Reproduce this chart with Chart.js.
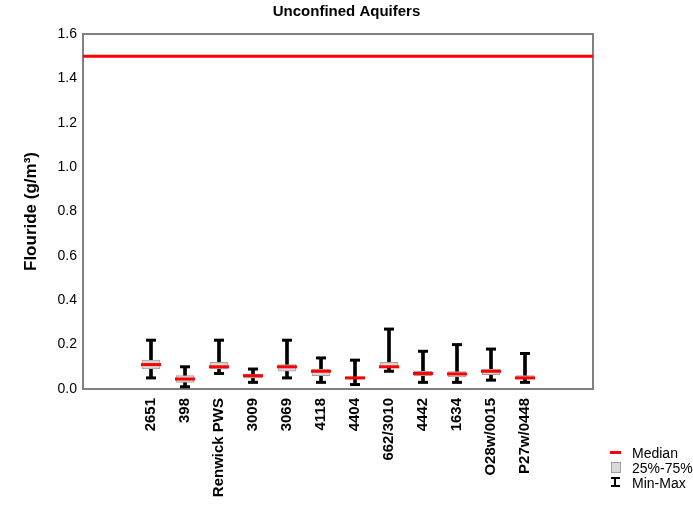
<!DOCTYPE html>
<html>
<head>
<meta charset="utf-8">
<script src="https://cdn.jsdelivr.net/npm/chart.js@4.4.1/dist/chart.umd.min.js"></script>
<style>
  body { margin: 0; background: #fff; }
  #wrap { position: relative; width: 693px; height: 513px; }
  .leg { position: absolute; left: 610px; font: 14px Arial, "Liberation Sans", sans-serif; color: #000; }
  .leg span { position: absolute; left: 22px; white-space: nowrap; line-height: 14px; }
  .med { top: 446px; }
  .med i { position: absolute; left: 0; top: 5px; width: 11px; height: 3px; background: #ff0000; }
  .iqr { top: 461px; }
  .iqr i { position: absolute; left: 1px; top: 1px; width: 8px; height: 9px; background: #d9d9d9; border: 1px solid #a0a0a0; }
  .mm { top: 476px; }
  .mm i { position: absolute; left: 1px; top: 1px; width: 9px; height: 10px; border-top: 2px solid #000; border-bottom: 2px solid #000; box-sizing: border-box; }
  .mm b { position: absolute; left: 4px; top: 1px; width: 2px; height: 10px; background: #000; }
</style>
</head>
<body>
<div id="wrap">
  <canvas id="c" width="693" height="513"></canvas>
  <div class="leg med"><i></i><span>Median</span></div>
  <div class="leg iqr"><i></i><span>25%-75%</span></div>
  <div class="leg mm"><i></i><b></b><span>Min-Max</span></div>
</div>
<script>
const sites = ["2651", "398", "Renwick PWS", "3009", "3069", "4118", "4404", "662/3010", "4442", "1634", "O28w/0015", "P27w/0448"];
const mins =    [0.05, 0.01, 0.07, 0.03, 0.05, 0.03, 0.02, 0.08, 0.03, 0.03, 0.04, 0.03];
const q1s =     [0.09, 0.03, 0.09, 0.05, 0.08, 0.06, 0.045, 0.10, 0.06, 0.055, 0.065, 0.045];
const medians = [0.11, 0.045, 0.10, 0.06, 0.10, 0.08, 0.05, 0.10, 0.07, 0.068, 0.08, 0.05];
const q3s =     [0.13, 0.06, 0.12, 0.065, 0.11, 0.09, 0.055, 0.12, 0.08, 0.078, 0.09, 0.06];
const maxs =    [0.22, 0.10, 0.22, 0.09, 0.22, 0.14, 0.13, 0.27, 0.17, 0.20, 0.18, 0.16];
const limit = 1.5;
const yTicks = [0, 0.2, 0.4, 0.6, 0.8, 1.0, 1.2, 1.4, 1.6];

// sites sit on slots 2..13 of a 0..15 axis
const slot = (i) => i + 2;

const stems = sites.map((s, i) => ({ x: slot(i), y: [mins[i], maxs[i]] }));
const boxes = sites.map((s, i) => ({ x: slot(i), y: [q1s[i], q3s[i]] }));
const medPts = sites.map((s, i) => ({ x: slot(i), y: medians[i] }));
const capPts = sites.flatMap((s, i) => [{ x: slot(i), y: mins[i] }, { x: slot(i), y: maxs[i] }]);

const axisGray = "#808080";
const font = "Arial, 'Liberation Sans', sans-serif";

new Chart(document.getElementById("c"), {
  type: "bar",
  data: {
    datasets: [
      { type: "line", data: [{ x: 0, y: limit }, { x: 15, y: limit }], borderColor: "#ff0000", borderWidth: 3, pointRadius: 0, order: 5 },
      { data: stems, backgroundColor: "#000", barThickness: 3, grouped: false, order: 4 },
      { data: boxes, backgroundColor: "#d9d9d9", borderColor: "#a0a0a0", borderWidth: 1, borderSkipped: false, barThickness: 18, grouped: false, order: 3 },
      { type: "scatter", data: capPts, pointStyle: "line", radius: 5, borderColor: "#000", borderWidth: 3, order: 2 },
      { type: "scatter", data: medPts, pointStyle: "line", radius: 10, borderColor: "#ff0000", borderWidth: 3, order: 1 }
    ]
  },
  options: {
    responsive: false,
    animation: false,
    plugins: {
      legend: { display: false },
      tooltip: { enabled: false },
      title: {
        display: true,
        text: "Unconfined Aquifers",
        color: "#000",
        font: { family: font, size: 15, weight: "bold" },
        padding: { top: 3, bottom: 13 }
      }
    },
    scales: {
      x: {
        type: "linear",
        min: 0, max: 15,
        offset: false,
        grid: { display: false, offset: false, drawTicks: false },
        border: { color: axisGray, width: 2 },
        ticks: {
          stepSize: 1,
          autoSkip: false,
          minRotation: 90, maxRotation: 90,
          padding: 9,
          color: "#000",
          font: { family: font, size: 15, weight: "bold" },
          callback: (v) => sites[v - 2] ?? ""
        },
        afterFit: (s) => { s.height = 124; }
      },
      x2: {
        type: "linear", position: "top", min: 0, max: 15,
        grid: { display: false, drawTicks: false },
        border: { color: axisGray, width: 2 },
        ticks: { display: false },
        afterFit: (s) => { s.height = 0; }
      },
      y: {
        min: 0, max: 1.6,
        grid: { display: false, drawTicks: false },
        border: { color: axisGray, width: 2 },
        afterBuildTicks: (s) => { s.ticks = yTicks.map((v) => ({ value: v })); },
        ticks: {
          padding: 6,
          color: "#000",
          font: { family: font, size: 14 },
          callback: (v) => v.toFixed(1)
        },
        title: {
          display: true,
          text: "Flouride (g/m³)",
          color: "#000",
          font: { family: font, size: 17, weight: "bold" },
          padding: { top: 21, bottom: 0 }
        },
        afterFit: (s) => { s.width = 83; }
      },
      y2: {
        position: "right", min: 0, max: 1.6,
        grid: { display: false, drawTicks: false },
        border: { color: axisGray, width: 2 },
        ticks: { display: false },
        afterFit: (s) => { s.width = 100; }
      }
    }
  }
});
</script>
</body>
</html>
